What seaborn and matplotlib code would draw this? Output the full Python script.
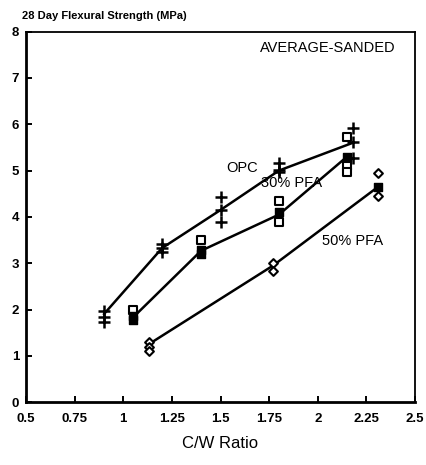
import matplotlib
matplotlib.use("Agg")
import matplotlib.pyplot as plt
import seaborn as sns
import pandas as pd

# Mean lines
opc_x = [0.9, 1.2, 1.5, 1.8, 2.18]
opc_y = [1.9, 3.33, 4.15, 5.0, 5.6]
pfa30_x = [1.05, 1.4, 1.8, 2.15]
pfa30_y = [1.83, 3.27, 4.05, 5.3]
pfa50_x = [1.13, 1.77, 2.31]
pfa50_y = [1.25, 2.95, 4.65]

# Individual results
opc_pts_x = [0.9, 0.9, 0.9, 1.2, 1.2, 1.2, 1.5, 1.5, 1.5, 1.8, 1.8, 1.8, 2.18, 2.18, 2.18]
opc_pts_y = [1.97, 1.85, 1.73, 3.42, 3.32, 3.25, 4.42, 4.15, 3.9, 5.17, 5.02, 4.96, 5.93, 5.62, 5.28]
pfa30_open_x = [1.05, 1.4, 1.8, 1.8, 2.15, 2.15, 2.15]
pfa30_open_y = [2.0, 3.5, 4.35, 3.88, 5.72, 5.1, 4.98]
pfa30_fill_x = [1.05, 1.05, 1.4, 1.4, 1.8, 2.15]
pfa30_fill_y = [1.86, 1.77, 3.28, 3.2, 4.1, 5.3]
pfa50_open_x = [1.13, 1.13, 1.13, 1.77, 1.77, 2.31, 2.31]
pfa50_open_y = [1.3, 1.2, 1.1, 3.0, 2.83, 4.95, 4.45]
pfa50_fill_x = [2.31]
pfa50_fill_y = [4.65]

x_ticks = [0.5, 0.75, 1, 1.25, 1.5, 1.75, 2, 2.25, 2.5]
x_tick_labels = ["0.5", "0.75", "1", "1.25", "1.5", "1.75", "2", "2.25", "2.5"]
y_ticks = [0, 1, 2, 3, 4, 5, 6, 7, 8]

sns.set_style("ticks")
plt.rcParams['font.family'] = ['Liberation Sans', 'DejaVu Sans']
plt.rcParams.update({"text.color": "black", "axes.labelcolor": "black",
                     "xtick.color": "black", "ytick.color": "black",
                     "axes.edgecolor": "black"})

fig = plt.figure(figsize=(4.27, 4.65), dpi=100)
ax = fig.add_axes([0.061, 0.135, 0.911, 0.797])

for xs, ys in [(opc_x, opc_y), (pfa30_x, pfa30_y), (pfa50_x, pfa50_y)]:
    sns.lineplot(x=xs, y=ys, ax=ax, color="black", linewidth=1.8, sort=False)

sns.scatterplot(x=opc_pts_x, y=opc_pts_y, ax=ax, marker="+", s=65, color="black", linewidth=1.8)
sns.scatterplot(x=pfa30_open_x, y=pfa30_open_y, ax=ax, marker="s", s=26, facecolor="white",
                edgecolor="black", linewidth=1.5, zorder=3)
sns.scatterplot(x=pfa30_fill_x, y=pfa30_fill_y, ax=ax, marker="s", s=36, color="black",
                edgecolor="black", linewidth=1.0, zorder=3)
sns.scatterplot(x=pfa50_open_x, y=pfa50_open_y, ax=ax, marker="D", s=20, facecolor="white",
                edgecolor="black", linewidth=1.5, zorder=3)
sns.scatterplot(x=pfa50_fill_x, y=pfa50_fill_y, ax=ax, marker="s", s=36, color="black",
                edgecolor="black", linewidth=1.0, zorder=3)

ax.set_xlim(0.5, 2.5)
ax.set_ylim(0, 8)
ax.set_xticks(x_ticks)
ax.set_xticklabels(x_tick_labels)
ax.set_yticks(y_ticks)
ax.tick_params(direction="in", length=4, width=1.4, labelsize=9.5, colors="black")
ax.tick_params(axis="x", pad=8)
ax.tick_params(axis="y", pad=5)
for lab in ax.get_xticklabels() + ax.get_yticklabels():
    lab.set_fontweight("bold")
for side in ["left", "bottom"]:
    ax.spines[side].set_linewidth(2.0)
for side in ["top", "right"]:
    ax.spines[side].set_linewidth(1.3)
    ax.spines[side].set_visible(True)

ax.text(1.69, 5.05, "OPC", ha="right", va="center", fontsize=10.5, color="black")
ax.text(1.71, 4.73, "30% PFA", ha="left", va="center", fontsize=10.5, color="black")
ax.text(2.02, 3.48, "50% PFA", ha="left", va="center", fontsize=10.5, color="black")
ax.text(2.4, 7.65, "AVERAGE-SANDED", ha="right", va="center", fontsize=10.5, color="black")

fig.text(0.052, 0.965, "28 Day Flexural Strength (MPa)", ha="left", va="center",
         fontsize=8, fontweight="bold", color="black")
ax.set_xlabel("C/W Ratio", fontsize=12, labelpad=8, color="black")
ax.set_ylabel("")

fig.savefig("out.png", dpi=100)
